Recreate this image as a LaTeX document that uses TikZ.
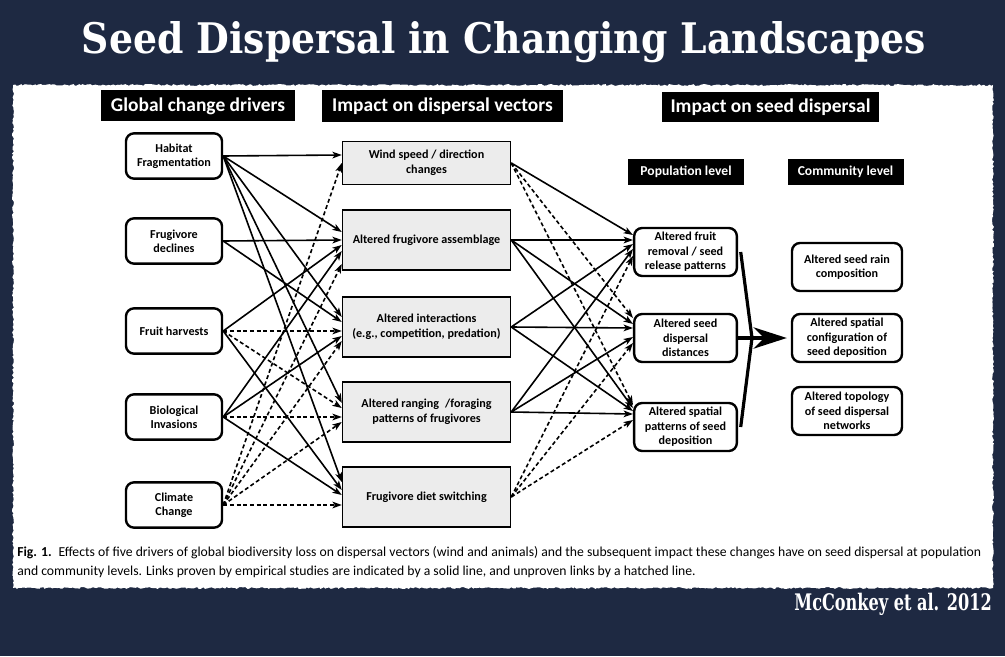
\documentclass[tikz,border=0pt]{standalone}
\usepackage{fontspec}
\setmainfont{Carlito}
\newfontfamily\slabfont{DejaVu Serif}
\usetikzlibrary{arrows.meta,calc,decorations.pathmorphing}
\definecolor{slide}{RGB}{30,41,66}
\definecolor{vecfill}{RGB}{236,236,236}

\begin{document}
\begin{tikzpicture}[x=0.75pt,y=-0.75pt]
 \tikzset{driver/.style = {draw, line width=1.8pt, rounded corners=6pt, fill=white, minimum width=72pt, minimum height=34pt, inner sep=1pt, align=center, font=\fontsize{9.1}{10.8}\selectfont\bfseries}}
 \tikzset{vector/.style = {draw, line width=1.1pt, fill=vecfill, minimum width=126pt, minimum height=45pt, inner sep=1pt, align=center, font=\fontsize{9.1}{11.2}\selectfont\bfseries}}
 \tikzset{effect/.style = {driver, minimum width=77pt, minimum height=36pt}}
 \tikzset{header/.style = {fill=black, text=white, inner sep=0pt, font=\fontsize{14.6}{16}\selectfont\bfseries}}
 \tikzset{level/.style = {header, minimum width=87pt, minimum height=19.5pt, font=\fontsize{10.2}{11}\selectfont\bfseries}}
 \tikzset{proven/.style = {-{Stealth[length=7pt,width=5pt,inset=1.8pt]}, line width=1.2pt}}
 \tikzset{unproven/.style = {proven, dash pattern=on 3pt off 2pt}}
 \def\ldrive{174}
 \def\lvec{426.5}
 \def\lpop{685.5}
 \def\lcom{847}

 % slide and paper
 \fill[slide] (0,0) rectangle (1005,656);
 \pgfmathsetseed{7}
 \fill[white, decorate, decoration={random steps, segment length=1.5pt, amplitude=0.7pt}] (13,85) rectangle (993,588);

 \node[anchor=base, text=white, inner sep=0pt] (title) at (504,54) {\resizebox{633pt}{24pt}{\slabfont\bfseries Seed Dispersal in Changing Landscapes}};

 % column headers
 \node[header, minimum width=145.5pt, minimum height=23.25pt] (hdrive) at (198,106) {Global change drivers};
 \node[header, minimum width=180.75pt, minimum height=24pt] (hvec) at (442.5,106) {Impact on dispersal vectors};
 \node[header, minimum width=162.75pt, minimum height=22.5pt] (hseed) at (770.5,107) {Impact on seed dispersal};
 \node[level] (hpop) at (686,172) {Population level};
 \node[level] (hcom) at (845.5,172) {Community level};

 % drivers
 \node[driver] (hab) at (\ldrive,156) {Habitat\\Fragmentation};
 \node[driver] (fru) at (\ldrive,241) {Frugivore\\declines};
 \node[driver] (har) at (\ldrive,331) {Fruit harvests};
 \node[driver] (inv) at (\ldrive,417) {Biological\\Invasions};
 \node[driver] (cli) at (\ldrive,505) {Climate\\Change};

 % dispersal vectors
 \node[vector, minimum height=32pt] (wind) at (\lvec,163) {Wind speed / direction\\changes};
 \node[vector] (assem) at (\lvec,240) {Altered frugivore assemblage};
 \node[vector] (inter) at (\lvec,327) {Altered interactions\\(e.g., competition, predation)};
 \node[vector] (rang) at (\lvec,412) {Altered ranging\enspace/foraging\\patterns of frugivores};
 \node[vector] (diet) at (\lvec,497) {Frugivore diet switching};

 % population level
 \node[effect] (frf) at (\lpop,252) {Altered fruit\\removal / seed\\release patterns};
 \node[effect] (dis) at (\lpop,338) {Altered seed\\dispersal\\distances};
 \node[effect] (spp) at (\lpop,427) {Altered spatial\\patterns of seed\\deposition};

 % community level
 \node[effect, minimum width=82.5pt] (rain) at (\lcom,267) {Altered seed rain\\composition};
 \node[effect, minimum width=82.5pt] (conf) at (\lcom,338) {Altered spatial\\configuration of\\seed deposition};
 \node[effect, minimum width=82.5pt] (topo) at (\lcom,411) {Altered topology\\of seed dispersal\\networks};

 % drivers -> vectors
 \draw[proven] (hab.east) -- ($(wind.west)+(0,-8)$);
 \draw[proven] (hab.east) -- ($(assem.west)+(0,-8)$);
 \draw[proven] (hab.east) -- ($(inter.west)+(0,-10)$);
 \draw[proven] (hab.east) -- ($(rang.west)+(0,-9)$);
 \draw[proven] (hab.east) -- ($(diet.west)+(0,-15)$);
 \draw[proven] (fru.east) -- (assem.west);
 \draw[proven] (fru.east) -- ($(inter.west)+(0,-5)$);
 \draw[proven] (har.east) -- ($(assem.west)+(0,5)$);
 \draw[unproven] (har.east) -- ($(inter.west)+(0,4)$);
 \draw[unproven] (har.east) -- ($(rang.west)+(0,-4)$);
 \draw[proven] (har.east) -- ($(diet.west)+(0,-7)$);
 \draw[proven] (inv.east) -- ($(assem.west)+(0,11)$);
 \draw[proven] (inv.east) -- ($(inter.west)+(0,9)$);
 \draw[unproven] (inv.east) -- ($(rang.west)+(0,5)$);
 \draw[proven] (inv.east) -- ($(diet.west)+(0,-2)$);
 \draw[unproven] (cli.east) -- (wind.west);
 \draw[unproven] (cli.east) -- ($(assem.west)+(0,24)$);
 \draw[unproven] (cli.east) -- ($(inter.west)+(0,14)$);
 \draw[unproven] (cli.east) -- ($(rang.west)+(0,10)$);
 \draw[unproven] (cli.east) -- ($(diet.west)+(0,8)$);

 % vectors -> population level
 \draw[proven] (wind.east) -- ($(frf.west)+(0,-17)$);
 \draw[unproven] (wind.east) -- ($(dis.west)+(0,-20)$);
 \draw[unproven] (wind.east) -- ($(spp.west)+(0,-22)$);
 \draw[proven] (assem.east) -- ($(frf.west)+(0,-12)$);
 \draw[proven] (assem.east) -- ($(dis.west)+(0,-14)$);
 \draw[proven] (assem.east) -- ($(spp.west)+(0,-19)$);
 \draw[proven] (inter.east) -- ($(frf.west)+(0,-8)$);
 \draw[proven] (inter.east) -- ($(dis.west)+(0,-10)$);
 \draw[proven] (inter.east) -- ($(spp.west)+(0,-16)$);
 \draw[proven] (rang.east) -- ($(frf.west)+(0,-3)$);
 \draw[proven] (rang.east) -- ($(dis.west)+(0,-1)$);
 \draw[proven] (rang.east) -- ($(spp.west)+(0,-13)$);
 \draw[unproven] (diet.east) -- ($(frf.west)+(0,4)$);
 \draw[unproven] (diet.east) -- ($(dis.west)+(0,5)$);
 \draw[unproven] (diet.east) -- ($(spp.west)+(0,-7)$);

 % population -> community
 \coordinate (kink) at (752,338);
 \draw[line width=2.4pt] ([xshift=2pt]frf.east) -- (kink) -- ([xshift=2pt]spp.east);
 \draw[line width=2.8pt, -{Stealth[length=25pt,width=16pt,inset=8pt]}, shorten >=3pt] (dis.east) -- (conf.west);

 % caption and source
 \node[anchor=west, inner sep=0pt] (caption) at (17,562) {\resizebox{723pt}{!}{\fontsize{11.5}{16}\selectfont\begin{tabular}{@{}l@{}}\textbf{Fig. 1.}\enspace Effects of five drivers of global biodiversity loss on dispersal vectors (wind and animals) and the subsequent impact these changes have on seed dispersal at population\\and community levels. Links proven by empirical studies are indicated by a solid line, and unproven links by a hatched line.\end{tabular}}};
 \node[anchor=base east, text=white, inner sep=0pt] (source) at (992,610) {\resizebox{148pt}{13pt}{\slabfont\bfseries McConkey et al. 2012}};
\end{tikzpicture}
\end{document}
